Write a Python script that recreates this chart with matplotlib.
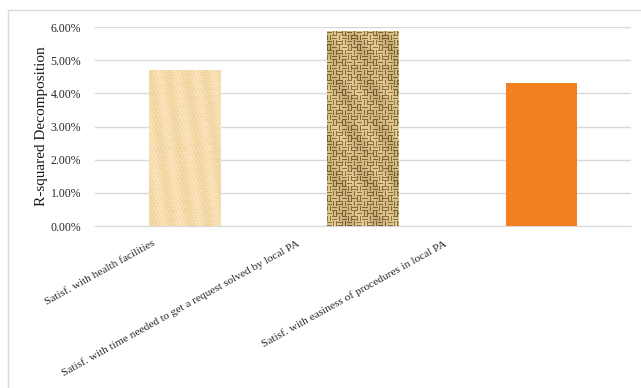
import numpy as np
import matplotlib.pyplot as plt
from matplotlib.patches import Rectangle
from matplotlib.transforms import ScaledTranslation

plt.rcParams['font.family'] = ['Liberation Serif', 'DejaVu Serif']

# R-squared decomposition per predictor (percent)
categories = [
    "Satisf. with health facilities",
    "Satisf. with time needed to get a request solved by local PA",
    "Satisf. with easiness of procedures in local PA",
]
r2_share = [4.69, 5.87, 4.30]
y_ticks = [0, 1, 2, 3, 4, 5, 6]

fig = plt.figure(figsize=(6.41, 3.88), dpi=100)
ax = fig.add_axes([95 / 641, 1 - 226 / 388, 536 / 641, 199 / 388])

# light frame around the chart area
fig.patches.append(Rectangle((8 / 641, -0.1), 1.2, 1.1 - 10 / 388, transform=fig.transFigure,
                             fill=False, edgecolor='#d9d9d9', linewidth=1.0))

x = np.arange(len(categories))
width = 0.40
bars = ax.bar(x, r2_share, width=width, color=['none', 'none', '#f58021'],
              edgecolor='none', zorder=3)


def papyrus(h, w):
    yy, xx = np.mgrid[0:h, 0:w]
    s = 0.025 * np.sin(xx * 1.7) * np.cos(yy * 0.9) + 0.02 * np.sin(xx * 0.35 + yy * 0.05)
    s += 0.02 * (np.sin(yy * 2.3 + xx * 0.2) > 0.7) + 0.015 * (np.sin(xx * 3.1 + yy * 0.4) > 0.8)
    base = np.array([0.97, 0.87, 0.69])
    img = base[None, None, :] - s[..., None] * np.array([0.6, 1.0, 1.6])
    return np.clip(img, 0, 1)


def burlap(h, w):
    yy, xx = np.mgrid[0:h, 0:w]
    block = ((xx // 5) + (yy // 5)) % 2
    horiz = (yy % 3 != 0)
    vert = (xx % 3 != 0)
    thread = np.where(block == 0, horiz, vert).astype(float)
    shade = 0.5 + 0.5 * np.sin(xx * 0.21 + yy * 0.13) * np.cos(yy * 0.07)
    light = np.array([0.93, 0.82, 0.60])
    dark = np.array([0.45, 0.35, 0.17])
    t = np.clip(0.7 * thread + 0.25 * shade, 0, 1)
    img = dark[None, None, :] + t[..., None] * (light - dark)[None, None, :]
    return img


textures = [papyrus, burlap, None]
for bar, tex in zip(bars, textures):
    if tex is None:
        continue
    x0, y0 = bar.get_x(), bar.get_y()
    w, h = bar.get_width(), bar.get_height()
    img = tex(int(h / 6 * 199), int(w / 3 * 536))
    im = ax.imshow(img, extent=[x0, x0 + w, y0, y0 + h], aspect='auto',
                   interpolation='nearest', zorder=3, origin='lower')
    im.set_clip_path(bar)

ax.set_xlim(-0.5, 2.5)
ax.set_ylim(0, 6)
ax.set_yticks(y_ticks)
ax.set_yticklabels([f"{v:.2f}%" for v in y_ticks], fontsize=8.5, color='#262626')
ax.yaxis.grid(True, color='#d9d9d9', linewidth=1.0, zorder=0)
ax.set_axisbelow(True)
for side in ['left', 'right', 'top']:
    ax.spines[side].set_visible(False)
ax.spines['bottom'].set_color('#d9d9d9')
ax.tick_params(axis='both', length=0)
ax.tick_params(axis='y', pad=10)

ax.set_ylabel("R-squared Decomposition", fontsize=11, color='#1a1a1a', labelpad=2)

ax.set_xticks(x)
labels = ax.set_xticklabels(categories, rotation=29, ha='right', va='top',
                            rotation_mode='anchor', fontsize=8.2, color='#262626')
label_shift = [-32, -66, -98]
for lab, dx in zip(labels, label_shift):
    lab.set_transform(lab.get_transform() + ScaledTranslation(dx / 100, -8 / 100, fig.dpi_scale_trans))

fig.savefig("out.png", dpi=100)
